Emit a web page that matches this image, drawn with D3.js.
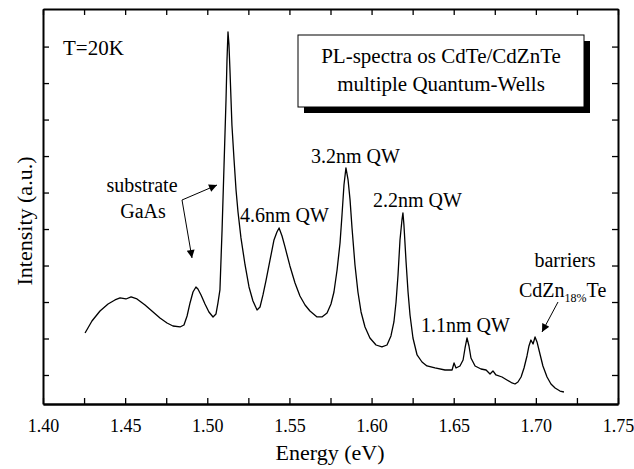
<!DOCTYPE html>
<html>
<head>
<meta charset="utf-8">
<script src="https://cdn.jsdelivr.net/npm/d3@7"></script>
<style>
  body { margin: 0; background: #fff; }
  svg { display: block; }
</style>
</head>
<body>
<svg id="chart" width="634" height="469"></svg>
<script>
// ---- data ----
const energy = [
  1.4256, 1.4298, 1.4347, 1.4396, 1.4438, 1.4469, 1.4505, 1.4536, 1.4572, 1.4621,
  1.4663, 1.4712, 1.4755, 1.4791, 1.4834, 1.4858, 1.4877, 1.4895, 1.4913, 1.4931,
  1.4943, 1.4962, 1.4986, 1.5010, 1.5035, 1.5053, 1.5065, 1.5077, 1.5090, 1.5102,
  1.5114, 1.5120, 1.5126, 1.5132, 1.5138, 1.5150, 1.5163, 1.5175, 1.5187, 1.5205,
  1.5230, 1.5254, 1.5278, 1.5303, 1.5321, 1.5339, 1.5357, 1.5382, 1.5406, 1.5424,
  1.5437, 1.5455, 1.5473, 1.5503, 1.5534, 1.5564, 1.5595, 1.5625, 1.5668, 1.5698,
  1.5729, 1.5753, 1.5771, 1.5790, 1.5808, 1.5820, 1.5832, 1.5844, 1.5857, 1.5869,
  1.5881, 1.5899, 1.5917, 1.5936, 1.5960, 1.5990, 1.6027, 1.6063, 1.6094, 1.6118,
  1.6136, 1.6149, 1.6161, 1.6173, 1.6185, 1.6191, 1.6197, 1.6210, 1.6222, 1.6234,
  1.6252, 1.6277, 1.6307, 1.6337, 1.6386, 1.6447, 1.6490, 1.6502, 1.6514, 1.6538,
  1.6557, 1.6569, 1.6581, 1.6593, 1.6605, 1.6630, 1.6666, 1.6697, 1.6721, 1.6739,
  1.6757, 1.6794, 1.6824, 1.6855, 1.6873, 1.6891, 1.6910, 1.6928, 1.6946, 1.6958,
  1.6970, 1.6983, 1.6995, 1.7007, 1.7025, 1.7043, 1.7068, 1.7092, 1.7117, 1.7147,
  1.7171
];
const intensity = [
  2.151, 2.480, 2.754, 2.946, 3.056, 3.111, 3.083, 3.138, 3.083, 2.919,
  2.754, 2.563, 2.425, 2.343, 2.316, 2.371, 2.617, 2.974, 3.275, 3.412,
  3.357, 3.193, 2.946, 2.727, 2.590, 2.672, 2.974, 3.330, 4.975, 6.757,
  8.538, 9.635, 10.402, 10.046, 9.361, 7.853, 6.894, 6.071, 5.468, 4.756,
  4.015, 3.412, 3.029, 2.782, 2.864, 3.193, 3.577, 4.152, 4.701, 4.920,
  5.030, 4.810, 4.509, 3.988, 3.522, 3.166, 2.919, 2.754, 2.590, 2.590,
  2.700, 2.946, 3.275, 3.878, 4.618, 5.386, 6.208, 6.675, 6.345, 5.798,
  5.030, 4.015, 3.275, 2.727, 2.316, 2.014, 1.822, 1.768, 1.822, 2.069,
  2.453, 3.001, 3.741, 4.701, 5.249, 5.441, 5.112, 4.098, 3.275, 2.645,
  2.014, 1.548, 1.356, 1.247, 1.192, 1.137, 1.137, 1.329, 1.192, 1.247,
  1.411, 1.740, 2.014, 1.795, 1.466, 1.247, 1.164, 1.137, 1.027, 1.110,
  1.000, 0.945, 0.863, 0.781, 0.753, 0.808, 0.945, 1.192, 1.521, 1.795,
  1.959, 1.850, 2.042, 1.905, 1.576, 1.247, 0.945, 0.753, 0.644, 0.561,
  0.534
];
const xMajorTicks = [1.40, 1.45, 1.50, 1.55, 1.60, 1.65, 1.70, 1.75];
const xTickLabels = ["1.40", "1.45", "1.50", "1.55", "1.60", "1.65", "1.70", "1.75"];
const xMinorTicks = [1.425, 1.475, 1.525, 1.575, 1.625, 1.675, 1.725];
const yTicks = [1, 2, 3, 4, 5, 6, 7, 8, 9, 10];
const xDomain = [1.40, 1.75];
const yDomain = [0.205, 11.03];

// ---- layout ----
const FONT = "Liberation Serif";
const svg = d3.select("#chart");
const L = 43, R = 618, T = 9, B = 404;
const x = d3.scaleLinear().domain(xDomain).range([L, R]);
const y = d3.scaleLinear().domain(yDomain).range([B, T]);

const pts = energy.map((e, i) => [e, intensity[i]]);

// curve
svg.append("path")
  .datum(pts)
  .attr("fill", "none")
  .attr("stroke", "#000")
  .attr("stroke-width", 1.3)
  .attr("stroke-linejoin", "round")
  .attr("d", d3.line().x(d => x(d[0])).y(d => y(d[1])));

// axes
const allX = xMajorTicks.concat(xMinorTicks);
function styleAxis(g) {
  g.selectAll(".domain").attr("stroke-width", 2);
  g.selectAll(".tick line").attr("stroke-width", 1.3);
}
svg.append("g").attr("transform", `translate(0,${B})`)
  .call(d3.axisBottom(x).tickValues(xMajorTicks).tickSize(-6).tickSizeOuter(0)
    .tickPadding(15).tickFormat((d, i) => xTickLabels[i]))
  .call(styleAxis)
  .call(g => g.attr("font-family", FONT).attr("font-size", 18));
svg.append("g").attr("transform", `translate(0,${B})`)
  .call(d3.axisBottom(x).tickValues(xMinorTicks).tickSize(-6).tickSizeOuter(0).tickFormat(""))
  .call(styleAxis);
svg.append("g").attr("transform", `translate(0,${T})`)
  .call(d3.axisTop(x).tickValues(allX).tickSize(-6).tickSizeOuter(0).tickFormat(""))
  .call(styleAxis);
svg.append("g").attr("transform", `translate(${L},0)`)
  .call(d3.axisLeft(y).tickValues(yTicks).tickSize(-6).tickSizeOuter(0).tickFormat(""))
  .call(styleAxis);
svg.append("g").attr("transform", `translate(${R},0)`)
  .call(d3.axisRight(y).tickValues(yTicks).tickSize(-6).tickSizeOuter(0).tickFormat(""))
  .call(styleAxis);

// axis titles
svg.append("text").attr("x", 330).attr("y", 460)
  .attr("text-anchor", "middle").attr("font-family", FONT).attr("font-size", 22).text("Energy (eV)");
svg.append("text").attr("transform", `translate(32,221) rotate(-90)`)
  .attr("text-anchor", "middle").attr("font-family", FONT).attr("font-size", 22).text("Intensity (a.u.)");

// arrow marker
svg.append("defs").append("marker")
  .attr("id", "ah").attr("viewBox", "0 0 10 10").attr("refX", 10).attr("refY", 5)
  .attr("markerUnits", "userSpaceOnUse").attr("markerWidth", 13).attr("markerHeight", 8)
  .attr("orient", "auto")
  .append("path").attr("d", "M0,0 L10,5 L0,10 Z").attr("fill", "#000");

// annotations
const ann = svg.append("g").attr("font-family", FONT).attr("font-size", 20);
ann.append("text").attr("x", 63).attr("y", 55).attr("font-size", 21).text("T=20K");
ann.append("text").attr("x", 142).attr("y", 192).attr("text-anchor", "middle").text("substrate");
ann.append("text").attr("x", 143).attr("y", 218).attr("text-anchor", "middle").text("GaAs");
ann.append("text").attr("x", 240).attr("y", 222).text("4.6nm QW");
ann.append("text").attr("x", 311).attr("y", 163).text("3.2nm QW");
ann.append("text").attr("x", 373).attr("y", 207).text("2.2nm QW");
ann.append("text").attr("x", 421).attr("y", 332).text("1.1nm QW");
ann.append("text").attr("x", 565).attr("y", 267).attr("text-anchor", "middle").text("barriers");
const cz = ann.append("text").attr("x", 519).attr("y", 297);
cz.append("tspan").text("CdZn");
cz.append("tspan").attr("font-size", 12).attr("dy", 5).text("18%");
cz.append("tspan").attr("dy", -5).text("Te");

// arrows
svg.append("line").attr("x1", 182).attr("y1", 200).attr("x2", 217).attr("y2", 185)
  .attr("stroke", "#000").attr("stroke-width", 1).attr("marker-end", "url(#ah)");
svg.append("line").attr("x1", 182).attr("y1", 200).attr("x2", 192).attr("y2", 258)
  .attr("stroke", "#000").attr("stroke-width", 1).attr("marker-end", "url(#ah)");
svg.append("line").attr("x1", 558).attr("y1", 302).attr("x2", 542).attr("y2", 332)
  .attr("stroke", "#000").attr("stroke-width", 1).attr("marker-end", "url(#ah)");

// title box with shadow
const bx = 298, by = 35, bw = 286, bh = 72;
svg.append("rect").attr("x", bx + 6).attr("y", by + 6).attr("width", bw).attr("height", bh).attr("fill", "#000");
svg.append("rect").attr("x", bx).attr("y", by).attr("width", bw).attr("height", bh)
  .attr("fill", "#fff").attr("stroke", "#000").attr("stroke-width", 1);
svg.append("text").attr("x", bx + bw / 2).attr("y", 63).attr("text-anchor", "middle")
  .attr("font-family", FONT).attr("font-size", 21).text("PL-spectra os CdTe/CdZnTe");
svg.append("text").attr("x", bx + bw / 2).attr("y", 91).attr("text-anchor", "middle")
  .attr("font-family", FONT).attr("font-size", 21).text("multiple Quantum-Wells");
</script>
</body>
</html>
